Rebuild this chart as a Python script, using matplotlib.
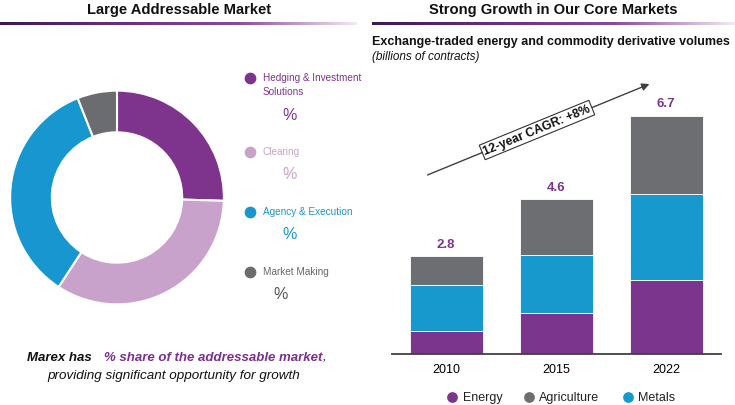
import matplotlib
matplotlib.use("Agg")
import matplotlib.pyplot as plt
import numpy as np
from matplotlib.colors import LinearSegmentedColormap

plt.rcParams['font.family'] = ['Liberation Sans', 'DejaVu Sans']

# donut data (share of addressable market)
segments = ["Hedging & Investment\nSolutions", "Clearing", "Agency & Execution", "Market Making"]
shares = [25.5, 33.7, 34.8, 6.0]
seg_colors = ["#7e338c", "#c9a2cc", "#1796d0", "#6b6c70"]
pct_colors = ["#7e338c", "#c9a2cc", "#1796d0", "#555555"]

# bar data (billions of contracts)
years = ["2010", "2015", "2022"]
energy = [0.64, 1.14, 2.08]
metals = [1.30, 1.63, 2.41]
agriculture = [0.82, 1.59, 2.21]
totals = ["2.8", "4.6", "6.7"]

PURPLE = "#7b358c"
BLUE = "#1799ce"
GRAY = "#6d6e72"

W, H = 735, 406


def px(x, y):
    # pixel position -> figure fraction
    return x / W, 1 - y / H


def main():
    fig = plt.figure(figsize=(7.35, 4.06), dpi=100)

    # donut
    cx, cy, r = 117, 198.5, 109
    l, b = px(cx - r, cy + r)
    ax_pie = fig.add_axes([l, b, 2 * r / W, 2 * r / H])
    ax_pie.pie(shares, colors=seg_colors, startangle=90, counterclock=False,
               radius=1, wedgeprops=dict(width=0.39, edgecolor="white", linewidth=1.5))
    ax_pie.set_aspect("equal")
    ax_pie.set_xlim(-1.02, 1.02)
    ax_pie.set_ylim(-1.02, 1.02)

    # stacked bars
    x0, x1, base, top = 392, 721, 355, 60
    unit = 35.57
    l, b = px(x0, base)
    ax = fig.add_axes([l, b, (x1 - x0) / W, (base - top) / H])
    x = np.arange(len(years))
    bw = 73 / 110
    e = np.array(energy)
    m = np.array(metals)
    a = np.array(agriculture)
    ax.bar(x, e, bw, color=PURPLE, edgecolor="white", linewidth=0.6)
    ax.bar(x, m, bw, bottom=e, color=BLUE, edgecolor="white", linewidth=0.6)
    ax.bar(x, a, bw, bottom=e + m, color=GRAY, edgecolor="white", linewidth=0.6)
    for i, t in enumerate(totals):
        ax.annotate(t, (x[i], e[i] + m[i] + a[i]), xytext=(0, 8.8), textcoords="offset points",
                    ha="center", va="center", color=PURPLE, fontsize=9.5, fontweight="bold")
    ax.set_xlim(-(446 - x0) / 110, 2 + (x1 - 666) / 110)
    ax.set_ylim(0, (base - top) / unit)
    ax.set_xticks(x)
    ax.set_xticklabels(years, fontsize=9)
    ax.tick_params(axis="x", length=0, pad=6.5)
    ax.set_yticks([])
    for s in ["top", "right", "left"]:
        ax.spines[s].set_visible(False)
    ax.spines["bottom"].set_color("#404040")
    ax.spines["bottom"].set_linewidth(1.3)
    ax.patch.set_visible(False)

    # overlay in pixel coordinates for texts and decorations
    ov = fig.add_axes([0, 0, 1, 1])
    ov.set_xlim(0, W)
    ov.set_ylim(H, 0)
    ov.axis("off")
    ov.patch.set_visible(False)

    cmap = LinearSegmentedColormap.from_list("g", ["#3c1a52", "#6b2d80", "#8a4a9c", "#f3e9f5"])
    grad = np.linspace(0, 1, 256).reshape(1, -1)
    ov.imshow(grad, cmap=cmap, extent=[0, 357, 26.3, 23.7], aspect="auto")
    ov.imshow(grad, cmap=cmap, extent=[372, 735, 26.3, 23.7], aspect="auto")
    ov.set_xlim(0, W)
    ov.set_ylim(H, 0)

    ov.text(179, 10, "Large Addressable Market", ha="center", va="center",
            fontsize=10.6, fontweight="bold", color="#111111")
    ov.text(553, 10, "Strong Growth in Our Core Markets", ha="center", va="center",
            fontsize=10.6, fontweight="bold", color="#111111")
    ov.text(372, 42, "Exchange-traded energy and commodity derivative volumes", ha="left",
            va="center", fontsize=9, fontweight="bold", color="#111111")
    ov.text(372, 57, "(billions of contracts)", ha="left", va="center",
            fontsize=8.5, style="italic", color="#111111")

    # donut legend
    dot_y = [79.3, 153.3, 213.3, 273.3]
    pct_pos = [(290, 115), (290, 175), (290, 235), (281, 295)]
    for i in range(len(segments)):
        ov.scatter([250], [dot_y[i]], s=55, color=seg_colors[i], zorder=3)
        ov.text(263, dot_y[i] - 6, segments[i], ha="left", va="top", fontsize=7.2,
                color=seg_colors[i] if i < 3 else "#666666", linespacing=1.45)
        ov.text(pct_pos[i][0], pct_pos[i][1], "%", ha="center", va="center",
                fontsize=11.5, color=pct_colors[i])

    # bottom sentence
    ov.text(27, 358, "Marex has", ha="left", va="center", fontsize=9.5,
            fontweight="bold", style="italic", color="#111111")
    t = ov.text(104, 358, "% share of the addressable market", ha="left", va="center",
                fontsize=9.5, fontweight="bold", style="italic", color="#7b2f8e")
    ov.annotate(",", xy=(1, 0.5), xycoords=t, ha="left", va="center", fontsize=9.5,
                style="italic", color="#111111")
    ov.text(174, 376, "providing significant opportunity for growth", ha="center",
            va="center", fontsize=9.7, style="italic", color="#111111")

    # CAGR arrow
    ov.annotate("", xy=(652, 84), xytext=(425, 177),
                arrowprops=dict(arrowstyle="-|>", color="#404040", lw=1, mutation_scale=11))
    ov.text(537, 131, "12-year CAGR: +8%", rotation=22.3, rotation_mode="anchor",
            ha="center", va="center", fontsize=8.8, fontweight="bold", color="#111111",
            bbox=dict(boxstyle="square,pad=0.15", fc="white", ec="#333333", lw=0.8))

    # bar legend
    leg = [("Energy", PURPLE, 452, 463), ("Agriculture", GRAY, 529, 539), ("Metals", BLUE, 628, 638)]
    for name, col, mx, tx in leg:
        ov.scatter([mx], [398], s=45, color=col)
        ov.text(tx, 398, name, ha="left", va="center", fontsize=9, color="#222222")

    fig.savefig("out.png", dpi=100)


if __name__ == '__main__':
    main()
